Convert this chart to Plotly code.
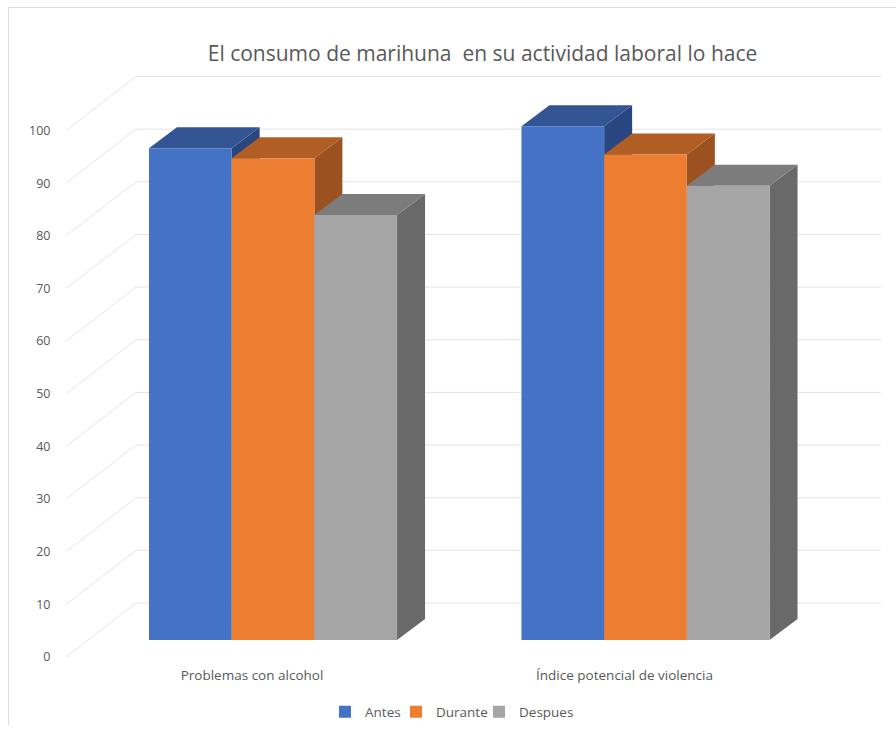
import plotly.graph_objects as go

categories = ["Problemas con alcohol", "Índice potencial de violencia"]
series = ["Antes", "Durante", "Despues"]
antes = [93.4, 97.6]
durante = [91.5, 92.2]
despues = [80.7, 86.3]
y_ticks = [0, 10, 20, 30, 40, 50, 60, 70, 80, 90, 100]
title = "El consumo de marihuna  en su actividad laboral lo hace"

front_colors = ["#4472C4", "#ED7D31", "#A5A5A5"]
top_colors = ["#335593", "#B15E24", "#7C7C7C"]
side_colors = ["#2A4680", "#9C5220", "#696969"]
legend_text_x = [365, 436, 519]
GRID = "#e4e4e4"
TEXT = "#595959"
FONT = "Open Sans"

W, H = 896, 733
RH = 725              # height the page actually gives the figure
PX_Y = 5.265          # pixels per value unit
PX_X = 372.5          # pixels per category step
LEFT, RIGHT, BOTTOM, TOP = 66, 881, 657, 60
x0 = -(252 - LEFT) / PX_X
x1 = x0 + (RIGHT - LEFT) / PX_X
y1 = (BOTTOM - TOP) / PX_Y

WALL_DX, WALL_DY = 70 / PX_X, 54 / PX_Y    # full floor depth
BAR_DX, BAR_DY = 28 / PX_X, 21 / PX_Y      # bar depth
FRONT_DX, FRONT_DY = 21 / PX_X, 17 / PX_Y  # gap from front of floor to bar fronts
BAR_W = 82.7 / PX_X

shapes = []
# chart frame
shapes.append(dict(type="line", xref="paper", yref="paper", x0=8.5 / W, x1=1, y0=1 - 7.5 / RH, y1=1 - 7.5 / RH,
                   line=dict(color="#dcdcdc", width=1), layer="below"))
shapes.append(dict(type="line", xref="paper", yref="paper", x0=8.5 / W, x1=8.5 / W, y0=0, y1=1 - 7.5 / RH,
                   line=dict(color="#dcdcdc", width=1), layer="below"))
# walls
for t in y_ticks:
    shapes.append(dict(type="line", xref="x", yref="y", x0=x0, y0=t, x1=x0 + WALL_DX, y1=t + WALL_DY,
                       line=dict(color=GRID, width=1), layer="below"))
    shapes.append(dict(type="line", xref="x", yref="y", x0=x0 + WALL_DX, y0=t + WALL_DY, x1=x1, y1=t + WALL_DY,
                       line=dict(color=GRID, width=1), layer="below"))


def poly(points, color):
    path = "M " + " L ".join(f"{a:.5f},{b:.4f}" for a, b in points) + " Z"
    return dict(type="path", xref="x", yref="y", path=path, fillcolor=color, line=dict(width=0), layer="below")


fig = go.Figure()
values = [antes, durante, despues]
legend_ids = ["legend", "legend2", "legend3"]
for s, name in enumerate(series):
    xs = [c + FRONT_DX + (s - 1) * BAR_W for c in range(len(categories))]
    fig.add_trace(go.Bar(x=xs, y=values[s], base=FRONT_DY, width=BAR_W, name=name, legend=legend_ids[s],
                         showlegend=True, marker=dict(color=front_colors[s], line=dict(width=0))))
    for x, v in zip(xs, values[s]):
        l, r = x - BAR_W / 2, x + BAR_W / 2
        b, t = FRONT_DY, FRONT_DY + v
        shapes.append(poly([(r, b), (r + BAR_DX, b + BAR_DY), (r + BAR_DX, t + BAR_DY), (r, t)], side_colors[s]))
        shapes.append(poly([(l, t), (l + BAR_DX, t + BAR_DY), (r + BAR_DX, t + BAR_DY), (r, t)], top_colors[s]))

legends = {
    lid: dict(orientation="h", x=(tx - 40) / W, xanchor="left", y=1 - 712 / RH, yanchor="middle",
              font=dict(size=13.5, color=TEXT), bgcolor="rgba(0,0,0,0)")
    for lid, tx in zip(legend_ids, legend_text_x)
}

fig.update_layout(
    width=W, height=H, autosize=False, showlegend=True,
    margin=dict(l=0, r=0, t=0, b=0),
    paper_bgcolor="white", plot_bgcolor="white",
    barmode="overlay", shapes=shapes,
    font=dict(family=FONT, color=TEXT),
    title=dict(text=title, x=482.5 / W, xanchor="center", y=1 - 53 / RH, yanchor="middle",
               font=dict(family=FONT, size=21, color=TEXT)),
    xaxis=dict(domain=[LEFT / W, RIGHT / W], range=[x0, x1], tickmode="array", tickvals=[0, 1], ticktext=categories,
               showgrid=False, zeroline=False, showline=False, ticks="outside", ticklen=6,
               tickcolor="rgba(0,0,0,0)", tickfont=dict(size=13.5, color=TEXT), fixedrange=True),
    yaxis=dict(domain=[1 - BOTTOM / RH, 1 - TOP / RH], range=[0, y1], tickmode="array", tickvals=y_ticks,
               showgrid=False, zeroline=False, showline=False, ticks="outside", ticklen=12,
               tickcolor="rgba(0,0,0,0)", tickfont=dict(size=12.5, color=TEXT), fixedrange=True),
    **legends,
)
fig.write_html("out.html", config=dict(displayModeBar=False),
               post_script="document.body.style.margin='0';document.documentElement.style.overflow='hidden';")
